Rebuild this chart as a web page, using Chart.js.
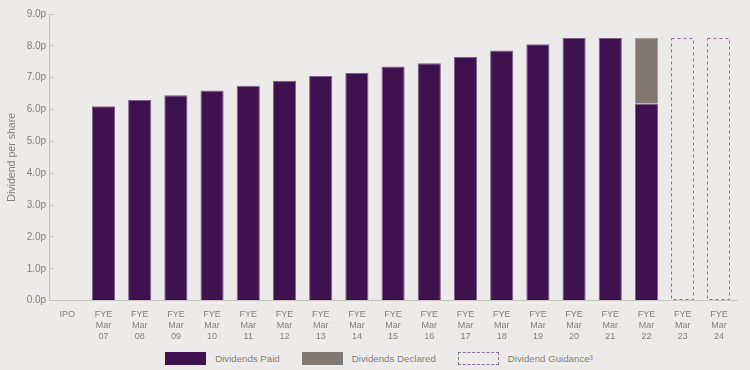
<!DOCTYPE html>
<html>
<head>
<meta charset="utf-8">
<script src="https://cdn.jsdelivr.net/npm/chart.js@4.4.0/dist/chart.umd.min.js"></script>
<style>
  html, body { margin: 0; padding: 0; background: #ecebe9; }
  #page { position: relative; width: 750px; height: 370px; overflow: hidden; }
  #wrap { position: absolute; left: 0; top: 0; width: 750px; height: 343px; }
  #legend {
    position: absolute; left: 0; top: 352px; width: 750px; height: 13px;
    display: flex; justify-content: center; align-items: center;
    padding-left: 8px; box-sizing: border-box;
    font-family: "Liberation Sans", Arial, sans-serif; font-size: 9.7px; color: #857f78;
  }
  .item { display: flex; align-items: center; margin: 0 11px; }
  .box { width: 41px; height: 13px; margin-right: 9px; box-sizing: border-box; }
</style>
</head>
<body>
<div id="page">
  <div id="wrap"><canvas id="dividendChart"></canvas></div>
  <div id="legend"></div>
</div>
<script>
const categories = [
    ["IPO"],
    ["FYE", "Mar", "07"], ["FYE", "Mar", "08"], ["FYE", "Mar", "09"], ["FYE", "Mar", "10"],
    ["FYE", "Mar", "11"], ["FYE", "Mar", "12"], ["FYE", "Mar", "13"], ["FYE", "Mar", "14"],
    ["FYE", "Mar", "15"], ["FYE", "Mar", "16"], ["FYE", "Mar", "17"], ["FYE", "Mar", "18"],
    ["FYE", "Mar", "19"], ["FYE", "Mar", "20"], ["FYE", "Mar", "21"], ["FYE", "Mar", "22"],
    ["FYE", "Mar", "23"], ["FYE", "Mar", "24"],
];
const dividendsPaid = [
    null, 6.1, 6.3, 6.45, 6.6, 6.75, 6.9, 7.05, 7.15, 7.35, 7.45, 7.65, 7.85, 8.05, 8.25, 8.25, 6.19, null, null,
];
const dividendsDeclared = [
    null, null, null, null, null, null, null, null, null, null, null, null, null, null, null, null, 2.06, null, null,
];
const dividendGuidance = [
    null, null, null, null, null, null, null, null, null, null, null, null, null, null, null, null, null, 8.25, 8.25,
];
const yTicks = [0, 1, 2, 3, 4, 5, 6, 7, 8, 9];
const seriesNames = ["Dividends Paid", "Dividends Declared", "Dividend Guidance\u00b3"];

const PURPLE = "#3e124f";
const GREY = "#827870";
const DASH = "#8d6fa0";
const TEXT = "#857f78";

// bars can't take a dashed border, so outline the guidance bars by hand
const dashedBars = {
    id: "dashedBars",
    afterDatasetsDraw(chart) {
        const meta = chart.getDatasetMeta(2);
        const ctx = chart.ctx;
        ctx.save();
        ctx.strokeStyle = DASH;
        ctx.lineWidth = 1;
        ctx.setLineDash([3, 3]);
        meta.data.forEach((bar, i) => {
            if (dividendGuidance[i] == null) return;
            const p = bar.getProps(["x", "y", "base", "width"], true);
            const left = Math.round(p.x - p.width / 2) + 0.5;
            const right = Math.round(p.x + p.width / 2) - 0.5;
            ctx.strokeRect(left, Math.round(p.y) + 0.5, right - left, Math.round(p.base) - Math.round(p.y) - 1);
        });
        ctx.restore();
    },
};

const config = {
    type: "bar",
    data: {
        labels: categories,
        datasets: [
            {
                label: seriesNames[0],
                data: dividendsPaid,
                backgroundColor: PURPLE,
                borderColor: "#7d6189",
                borderWidth: 1,
            },
            {
                label: seriesNames[1],
                data: dividendsDeclared,
                backgroundColor: GREY,
                borderColor: "#a29a92",
                borderWidth: 1,
            },
            {
                label: seriesNames[2],
                data: dividendGuidance,
                backgroundColor: "rgba(0,0,0,0)",
                borderWidth: 0,
            },
        ],
    },
    options: {
        responsive: true,
        maintainAspectRatio: false,
        animation: false,
        layout: {
            padding: { top: 10, right: 13, left: 6, bottom: 0 },
        },
        datasets: {
            bar: {
                categoryPercentage: 1,
                barPercentage: 0.64,
            },
        },
        scales: {
            x: {
                stacked: true,
                grid: { display: false },
                border: { color: "#c9c6c2" },
                ticks: {
                    color: TEXT,
                    font: { family: "Liberation Sans", size: 9 },
                    maxRotation: 0,
                    autoSkip: false,
                    padding: 1,
                },
            },
            y: {
                stacked: true,
                min: 0,
                max: 9,
                afterBuildTicks: (axis) => {
                    axis.ticks = yTicks.map((v) => ({ value: v }));
                },
                grid: {
                    drawOnChartArea: false,
                    drawTicks: true,
                    tickLength: -5,
                    color: "#c9c6c2",
                },
                border: { color: "#c9c6c2" },
                ticks: {
                    color: TEXT,
                    font: { family: "Liberation Sans", size: 10 },
                    padding: 8,
                    callback: (v) => v.toFixed(1) + "p",
                },
                title: {
                    display: true,
                    text: "Dividend per share",
                    color: TEXT,
                    font: { family: "Liberation Sans", size: 10.6 },
                    padding: { top: 0, bottom: 0 },
                },
            },
        },
        plugins: {
            tooltip: { enabled: false },
            legend: { display: false },
        },
    },
    plugins: [dashedBars],
};

new Chart(document.getElementById("dividendChart"), config);

// html legend underneath
const legendBoxes = [
    "background:" + PURPLE,
    "background:" + GREY,
    "border:1px dashed " + DASH,
];
document.getElementById("legend").innerHTML = seriesNames
    .map((name, i) => `<div class="item"><div class="box" style="${legendBoxes[i]}"></div><span>${name}</span></div>`)
    .join("");
</script>
</body>
</html>
